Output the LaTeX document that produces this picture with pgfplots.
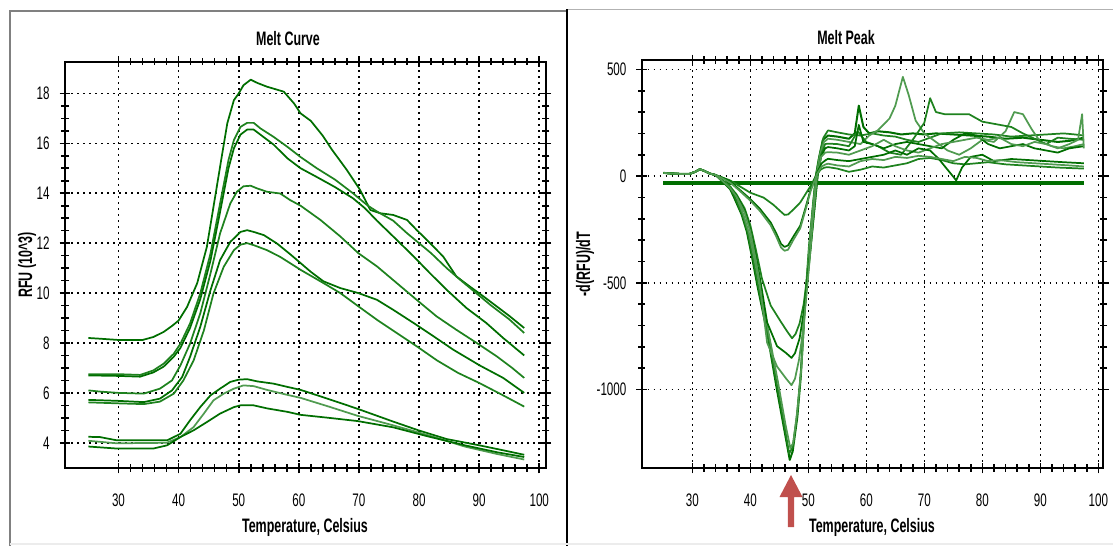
\documentclass[border=0pt]{standalone}
\usepackage{fontspec}
\setmainfont{Liberation Sans}[FakeStretch=0.64]
\usepackage{pgfplots}
\pgfplotsset{compat=1.18}
\definecolor{dg}{RGB}{0,110,0}
\definecolor{mg}{RGB}{30,130,30}
\definecolor{lg}{RGB}{80,155,80}
\definecolor{arrowred}{RGB}{192,80,77}
\pgfplotsset{
 melt/.style={
  scale only axis, anchor=south west,
  axis line style={line width=1.4pt},
  tick align=center,
  major tick length=8pt, minor tick length=5.5pt,
  every tick/.style={black, line width=1.2pt},
  grid=major,
  major grid style={black, line width=1.2pt, dash pattern=on 1.2pt off 3.3pt},
  tick label style={font=\fontsize{13.6}{14}\selectfont},
  /pgf/number format/assume math mode=true,
  /pgf/number format/1000 sep={},
  scaled ticks=false,
  xtick={30,40,...,100}, minor x tick num=4,
  xticklabel style={yshift=-12pt},
  yticklabel style={xshift=-4pt},
  every axis plot/.append style={line width=1.3pt, mark=none, line join=round},
 }
}
\newcommand\lab{\fontsize{14.6}{16}\selectfont\bfseries}
\begin{document}
\begin{tikzpicture}
\begin{scope}[x=0.75pt,y=0.75pt]
\useasboundingbox (0,0) rectangle (1113,546);
\draw[gray, line width=1.1pt] (10,0) -- (10,535) -- (567,535);
\draw[gray!60, line width=1.1pt] (567,536.5) -- (1113,536.5);
\draw[black, line width=1.3pt] (567,0) -- (567,537);
\draw[gray!15, line width=1pt] (10,2) -- (1113,2);
\end{scope}

% ---------------- Melt Curve ----------------
\begin{axis}[melt, at={(48.75pt,58.5pt)}, width=360.5pt, height=304.7pt,
  xmin=21.1, xmax=101.07, ymin=2.99, ymax=19.27,
  ytick={4,6,...,18}, minor y tick num=3]
\addplot[dg] coordinates {(25,8.2) (27,8.17) (30,8.12) (34,8.12) (35.8,8.24) (37.5,8.44) (39,8.7) (40,8.9) (41.4,9.44) (43.1,10.4) (44.7,11.85) (45.8,13.45) (46.9,15.06) (48.1,16.8) (49.2,17.73) (50,18.0) (50.8,18.33) (52,18.55) (53.1,18.42) (54.7,18.27) (57.5,18.07) (59.2,17.6) (60.3,17.2) (62,16.9) (64,16.3) (65.5,15.75) (68,14.93) (70.2,14.13) (71.9,13.33) (73.5,13.2) (75.7,13.13) (78,12.93) (79.6,12.53) (81.3,12.13) (84,11.47) (86.2,10.67) (88.4,10.27) (90.7,9.87) (92.9,9.47) (95.1,9.07) (97.5,8.6)};
\addplot[mg] coordinates {(25,6.75) (30,6.75) (33.6,6.72) (35.8,6.9) (37.5,7.17) (39.2,7.57) (40.3,7.97) (41.9,8.78) (43.6,9.98) (45.3,11.58) (46.9,13.59) (48.3,15.33) (49.2,16.13) (50.3,16.66) (51.4,16.82) (52.5,16.82) (53.6,16.6) (55.8,16.26) (58.1,15.86) (60.3,15.45) (63,15.0) (66,14.55) (69,14.0) (71.5,13.5) (73,13.27) (75.7,12.9) (78,12.4) (80,12.0) (82,11.6) (84.6,11.0) (87,10.5) (90,9.9) (92,9.5) (95,8.95) (97.5,8.4)};
\addplot[dg] coordinates {(25,6.7) (30,6.68) (33.6,6.65) (35.8,6.82) (37.5,7.05) (39.2,7.45) (40.3,7.8) (41.9,8.6) (43.6,9.75) (45.3,11.3) (46.9,13.25) (48.3,15.0) (49.2,15.8) (50.3,16.35) (51.4,16.55) (52.5,16.55) (53.6,16.35) (55.8,15.95) (58.1,15.4) (60.3,15.0) (63,14.65) (66,14.25) (69,13.8) (71,13.4) (73,12.9) (75.7,12.27) (79.1,11.47) (81.8,10.8) (84.6,10.13) (87.9,9.4) (91.2,8.8) (94,8.2) (97.5,7.5)};
\addplot[mg] coordinates {(25,6.1) (27,6.05) (30,6.0) (34.2,5.97) (36.9,6.17) (38.9,6.5) (40.3,7.1) (41.9,7.97) (43.6,9.18) (45.3,10.78) (46.9,12.39) (48.6,13.59) (49.7,14.06) (50.8,14.28) (52,14.3) (53.1,14.19) (54.7,14.06) (56.9,13.99) (58.6,13.72) (60.3,13.5) (63.6,12.93) (66.9,12.27) (69.9,11.6) (73,11.07) (76.3,10.4) (79.6,9.73) (82.9,9.07) (86.2,8.53) (89.6,8.0) (92.9,7.47) (95.5,7.0) (97.5,6.6)};
\addplot[dg] coordinates {(25,5.72) (30,5.68) (34.2,5.63) (36.9,5.77) (38.9,6.1) (40.6,6.64) (41.9,7.44) (43.6,8.64) (45.3,10.11) (46.9,11.32) (48.6,12.05) (50.3,12.45) (51.4,12.52) (52.5,12.45) (54.2,12.32) (56.4,11.98) (58.6,11.55) (60.3,11.2) (62,10.85) (64.1,10.47) (66.9,10.2) (69.9,10.0) (73,9.73) (75.7,9.33) (79.1,8.8) (82.4,8.27) (85.7,7.73) (90.1,7.1) (94,6.6) (97.5,6.0)};
\addplot[mg] coordinates {(25,5.62) (30,5.58) (34.2,5.55) (36.9,5.65) (39.2,5.97) (40.8,6.5) (42.5,7.3) (44.2,8.5) (45.8,9.98) (47.5,11.05) (49.2,11.72) (50.3,11.94) (51.4,12.0) (52.5,11.92) (54.7,11.72) (56.9,11.45) (59.2,11.1) (60.3,10.93) (64.1,10.4) (66.9,10.0) (69.9,9.47) (73,8.93) (76.3,8.4) (79.6,7.87) (83,7.3) (86.5,6.8) (90,6.4) (94,5.9) (97.5,5.45)};
\addplot[dg] coordinates {(25,4.24) (26.9,4.23) (29.7,4.1) (38.1,4.1) (40.3,4.36) (41.9,4.9) (43.6,5.43) (45.3,5.9) (46.9,6.17) (48.6,6.44) (50,6.53) (51.4,6.55) (53.1,6.46) (55.8,6.37) (58.1,6.24) (60.3,6.12) (65,5.75) (69.8,5.36) (75.7,4.85) (79.9,4.5) (84.6,4.15) (90,3.9) (94,3.7) (97.5,3.52)};
\addplot[lg] coordinates {(25,4.08) (29.7,3.98) (38,4.0) (40.3,4.23) (42.5,4.63) (44.2,5.17) (45.8,5.7) (47.5,5.97) (49.2,6.17) (50.8,6.3) (52.5,6.27) (54.7,6.12) (58.1,5.92) (60.3,5.8) (65,5.45) (69.8,5.08) (75.7,4.7) (81.6,4.3) (87.6,3.85) (93,3.55) (97.5,3.33)};
\addplot[dg] coordinates {(25,3.85) (29.7,3.77) (35.8,3.77) (38.1,3.9) (40.3,4.23) (42.5,4.5) (44.7,4.83) (46.9,5.17) (49.2,5.43) (50.3,5.5) (52.5,5.5) (54.7,5.38) (58.1,5.24) (60.3,5.12) (65,5.0) (69.8,4.87) (75.7,4.62) (81.6,4.25) (87.6,3.9) (93,3.62) (97.5,3.43)};
\end{axis}

% ---------------- Melt Peak ----------------
\begin{axis}[melt, at={(481.3pt,58.5pt)}, width=346.2pt, height=306pt,
  xmin=21.28, xmax=100.86, ymin=-1368, ymax=544,
  ytick={-1000,-500,0,500}, minor y tick num=4]
\addplot[dg, line width=3pt] coordinates {(25,-33) (97.6,-33)};
\addplot[dg, line width=1.5pt] coordinates {(25,15) (26.5,12) (28,10) (29.5,10) (30.5,20) (31.3,32) (32,25) (33,12) (34,5) (35,-20) (36.5,-60) (37.1,-94) (38.5,-180) (39.4,-260) (40.3,-380) (41.2,-511) (42.9,-733) (44.6,-1003) (46.1,-1225) (46.8,-1330) (47.3,-1290) (48.1,-1130) (48.7,-940) (49.3,-654) (50.2,-337) (50.8,-150) (51.3,0) (51.8,80) (52.5,170) (53.4,190) (55,185) (57,175) (58,200) (58.7,330) (59.5,230) (60.5,200) (62,210) (64,205) (66,195) (68,200) (70,195) (72,200) (75,195) (78,190) (81,185) (84,175) (87,180) (90,170) (93,160) (95,165) (97.5,180)};
\addplot[mg] coordinates {(25,15) (26.5,12) (28,10) (29.5,10) (30.5,20) (31.3,32) (32,25) (33,12) (34,5) (35,-18) (36.5,-55) (37.3,-94) (38.6,-180) (39.5,-260) (40.5,-390) (41.4,-520) (43,-740) (44.6,-980) (46,-1190) (46.7,-1300) (47.3,-1270) (48,-1130) (48.7,-920) (49.3,-640) (50.1,-330) (50.8,-130) (51.3,0) (51.9,90) (52.6,180) (53.4,214) (55,205) (57,195) (59,190) (61,200) (63,190) (65,185) (67,170) (69,160) (71,180) (73,200) (76,205) (79,200) (82,195) (85,185) (88,190) (91,195) (94,200) (96,195) (97.5,190)};
\addplot[lg] coordinates {(25,15) (26.5,12) (28,10) (29.5,10) (30.5,20) (31.3,32) (32,25) (33,12) (34,5) (35,-15) (36.6,-50) (37.6,-94) (38.8,-180) (39.8,-270) (40.8,-400) (41.8,-540) (43.2,-740) (44.8,-970) (46.1,-1170) (46.9,-1275) (47.4,-1250) (48.1,-1100) (48.8,-900) (49.4,-630) (50.2,-320) (50.9,-120) (51.4,0) (52,100) (52.7,160) (53.4,175) (55,170) (57,160) (59,150) (60.5,190) (62,215) (64,270) (65,330) (66.3,465) (67.3,380) (68.5,260) (70,200) (72,160) (74,120) (76,100) (78,130) (80,170) (82,160) (84,210) (85.5,300) (87,290) (88.5,220) (90,160) (92,140) (94,130) (96,140) (97.5,150)};
\addplot[mg] coordinates {(25,15) (26.5,12) (28,10) (29.5,10) (30.5,20) (31.3,32) (32,25) (33,12) (34,5) (35,-15) (36.5,-50) (37.6,-85) (39,-150) (40,-230) (41,-350) (42,-480) (43.5,-606) (45.2,-680) (46.4,-730) (47.2,-760) (47.8,-740) (48.5,-690) (49.2,-600) (49.8,-470) (50.4,-330) (51,-170) (51.6,0) (52.2,100) (52.9,150) (53.4,152) (55,150) (57,140) (58.5,210) (60,160) (62,140) (64,110) (66,100) (68,170) (70,250) (71,365) (72,300) (73.5,290) (77.7,290) (80,255) (83,240) (85,230) (87,200) (89,175) (91,150) (93,180) (95,175) (97.5,170)};
\addplot[dg] coordinates {(25,15) (26.5,12) (28,10) (29.5,10) (30.5,20) (31.3,32) (32,25) (33,12) (34,5) (35,-15) (36.5,-55) (37.6,-90) (39,-160) (40,-250) (41,-380) (41.8,-500) (42.9,-686) (44.6,-797) (46.2,-830) (47.1,-852) (47.7,-830) (48.5,-760) (49.2,-640) (49.8,-500) (50.4,-340) (51,-170) (51.6,0) (52.2,90) (52.9,130) (53.4,136) (55,130) (57,120) (58,140) (58.7,240) (59.5,160) (61,150) (63,130) (65,150) (67,160) (69,150) (71,140) (73,130) (75,170) (77,200) (79,190) (81,150) (83,130) (85,140) (87,150) (89,130) (91,120) (93,110) (95,130) (97.5,140)};
\addplot[lg] coordinates {(25,15) (26.5,12) (28,10) (29.5,10) (30.5,20) (31.3,32) (32,25) (33,12) (34,5) (35,-18) (36.5,-55) (37.6,-95) (39,-170) (40,-260) (41,-400) (41.6,-500) (42.9,-781) (44.6,-892) (46.2,-950) (47.1,-980) (47.7,-950) (48.4,-860) (49,-740) (49.6,-580) (50.2,-400) (50.8,-200) (51.5,0) (52.2,90) (52.9,110) (53.4,112) (55,110) (57,100) (59,120) (61,140) (63,170) (65,140) (67,120) (69,110) (71,130) (73,150) (75,160) (77,170) (79,180) (81,170) (83,180) (85,150) (87,140) (89,160) (91,150) (93,130) (95,150) (96.5,170) (97.2,290) (97.5,130)};
\addplot[mg] coordinates {(25,15) (26.5,12) (28,10) (29.5,10) (30.5,20) (31.3,32) (32,25) (33,12) (34,5) (35,-5) (36.5,-20) (38,-45) (40,-78) (42.3,-101) (44,-135) (45.2,-165) (45.9,-182) (46.5,-180) (47.5,-155) (48.6,-124) (49.5,-85) (50.4,-46) (51.3,0) (52.1,30) (52.8,40) (53.4,42) (55,35) (57,20) (59,30) (61,45) (63,40) (65,50) (67,60) (69,80) (71,85) (73,75) (75,60) (77,55) (79,60) (81,65) (84,55) (87,50) (90,45) (93,40) (97.5,35)};
\addplot[dg] coordinates {(25,15) (26.5,12) (28,10) (29.5,10) (30.5,20) (31.3,32) (32,25) (33,12) (34,5) (35,-5) (36.5,-25) (38,-60) (40,-108) (41.7,-155) (43.5,-217) (44.5,-270) (45.3,-318) (45.9,-332) (46.5,-325) (47.5,-280) (48.6,-233) (49.5,-150) (50.4,-62) (51.5,15) (52.3,60) (53,75) (53.4,81) (55,75) (57,70) (59,80) (61,90) (63,100) (65,120) (67,100) (69,130) (71,120) (72.5,80) (74,30) (75.5,-20) (76.5,40) (78,90) (80,100) (82,70) (85,80) (88,75) (91,70) (94,65) (97.5,60)};
\addplot[lg] coordinates {(25,15) (26.5,12) (28,10) (29.5,10) (30.5,20) (31.3,32) (32,25) (33,12) (34,5) (35,-8) (36.5,-30) (38,-65) (40,-115) (41.7,-165) (43.5,-230) (44.5,-285) (45.3,-335) (45.9,-350) (46.5,-345) (47.5,-295) (48.6,-245) (49.5,-160) (50.4,-70) (51.5,10) (52.3,45) (53,55) (53.4,58) (55,50) (57,45) (59,70) (61,80) (63,75) (65,90) (67,85) (69,95) (71,90) (73,80) (75,70) (77,90) (79,85) (81,70) (83,75) (86,65) (89,60) (92,55) (95,50) (97.5,45)};
\end{axis}

\begin{scope}[x=0.75pt,y=0.75pt]
\node[font=\lab] at (288,507) {Melt Curve};
\node[font=\lab] at (846,508) {Melt Peak};
\node[font=\lab] at (305,19) {Temperature, Celsius};
\node[font=\lab] at (872,19) {Temperature, Celsius};
\node[font=\lab, rotate=90] at (27,281) {RFU (10\textasciicircum 3)};
\node[font=\lab, rotate=90] at (585,282) {-d(RFU)/dT};
\fill[arrowred] (791,71) -- (802.5,49) -- (794.2,49) -- (794.2,19) -- (787.8,19) -- (787.8,49) -- (779.5,49) -- cycle;
\end{scope}
\end{tikzpicture}
\end{document}
